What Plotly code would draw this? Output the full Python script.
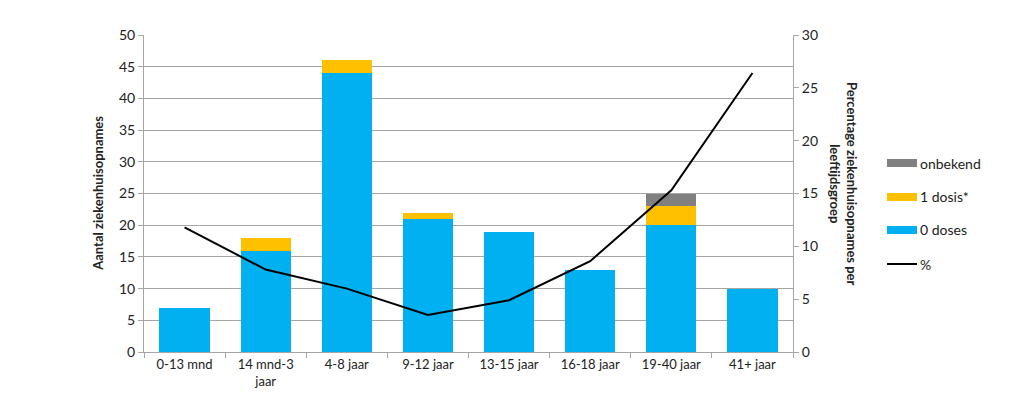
import plotly.graph_objects as go

categories = ["0-13 mnd", "14 mnd-3<br>jaar", "4-8 jaar", "9-12 jaar", "13-15 jaar", "16-18 jaar", "19-40 jaar", "41+ jaar"]
doses0 = [7, 16, 44, 21, 19, 13, 20, 10]
dosis1 = [0, 2, 2, 1, 0, 0, 3, 0]
onbekend = [0, 0, 0, 0, 0, 0, 2, 0]
percent = [11.8, 7.8, 6.0, 3.5, 4.9, 8.6, 15.3, 26.4]

legend_names = ["onbekend", "1 dosis*", "0 doses", "%"]

BLUE = "#00B0F0"
YELLOW = "#FFC000"
GRAY = "#808080"
AX = "#A6A6A6"
FONT = "Lato"

fig = go.Figure()
fig.add_bar(x=categories, y=doses0, name=legend_names[2], marker_color=BLUE, marker_line_width=0, showlegend=False)
fig.add_bar(x=categories, y=dosis1, name=legend_names[1], marker_color=YELLOW, marker_line_width=0, showlegend=False)
fig.add_bar(x=categories, y=onbekend, name=legend_names[0], marker_color=GRAY, marker_line_width=0, showlegend=False)
fig.add_scatter(x=categories, y=percent, name=legend_names[3], mode="lines", yaxis="y2",
                line=dict(color="black", width=2), showlegend=False)

fig.update_layout(
    width=1024, height=407,
    margin=dict(l=144, r=231, t=35, b=55),
    paper_bgcolor="white", plot_bgcolor="white",
    barmode="stack", bargap=0.38,
    font=dict(family=FONT, size=13, color="#222"),
    xaxis=dict(showline=True, linecolor=AX, linewidth=1, ticks="outside", tickson="boundaries",
               ticklen=5, tickcolor=AX, showgrid=False, tickfont=dict(size=13)),
    yaxis=dict(range=[0, 50], dtick=5, showgrid=True, gridcolor=AX, gridwidth=1,
               showline=True, linecolor=AX, ticks="outside", ticklen=5, tickcolor=AX,
               tickfont=dict(size=14), zeroline=False),
    yaxis2=dict(range=[0, 30], dtick=5, overlaying="y", side="right", showgrid=False,
                showline=True, linecolor=AX, ticks="outside", ticklen=5, tickcolor=AX,
                tickfont=dict(size=14), zeroline=False),
)

# Axis titles
fig.add_annotation(text="<b>Aantal ziekenhuisopnames</b>", xref="paper", yref="paper",
                   x=-0.072, y=0.5, textangle=-90, showarrow=False, font=dict(size=13, color="#222"),
                   xanchor="center", yanchor="middle")
fig.add_annotation(text="<b>Percentage ziekenhuisopnames per<br>leeftijdsgroep</b>", xref="paper", yref="paper",
                   x=1.077, y=0.53, textangle=90, showarrow=False, font=dict(size=13, color="#222"),
                   xanchor="center", yanchor="middle")

# Manual legend
leg_x0 = 887
leg_w = 30
items = [(legend_names[0], GRAY, "bar", 163), (legend_names[1], YELLOW, "bar", 197),
         (legend_names[2], BLUE, "bar", 230), (legend_names[3], "black", "line", 264)]
W, H = 1024, 407
pw = W - 144 - 231
ph = H - 35 - 55
def px2paper_x(px):
    return (px - 144) / pw
def px2paper_y(py):
    return (H - 55 - py) / ph
for name, col, kind, yc in items:
    if kind == "bar":
        fig.add_shape(type="rect", xref="paper", yref="paper",
                      x0=px2paper_x(leg_x0), x1=px2paper_x(leg_x0 + leg_w),
                      y0=px2paper_y(yc + 4), y1=px2paper_y(yc - 4),
                      fillcolor=col, line_width=0)
    else:
        fig.add_shape(type="line", xref="paper", yref="paper",
                      x0=px2paper_x(leg_x0), x1=px2paper_x(leg_x0 + leg_w),
                      y0=px2paper_y(yc), y1=px2paper_y(yc),
                      line=dict(color=col, width=2))
    fig.add_annotation(text=name, xref="paper", yref="paper",
                       x=px2paper_x(leg_x0 + leg_w + 1), y=px2paper_y(yc),
                       xanchor="left", yanchor="middle", showarrow=False,
                       font=dict(size=14, color="#222"))

fig.write_html("out.html")
